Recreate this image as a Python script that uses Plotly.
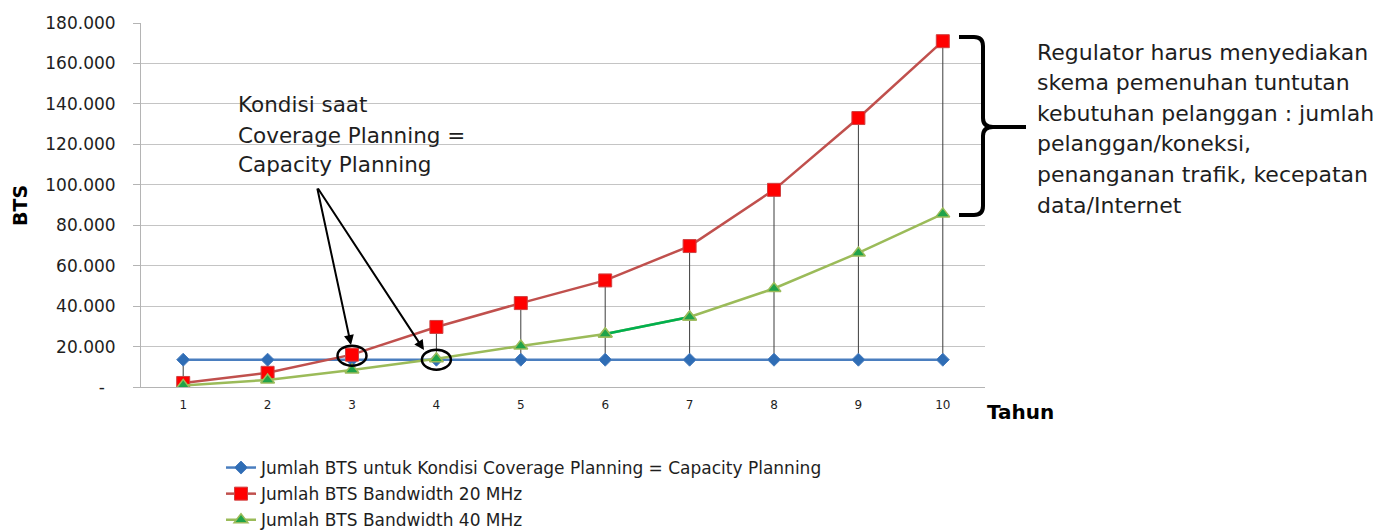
import plotly.graph_objects as go

# Data: number of BTS per year for each planning scenario
tahun = [1, 2, 3, 4, 5, 6, 7, 8, 9, 10]
bts_coverage = [13500] * 10
bts_bw20 = [2000, 7000, 16000, 29700, 41500, 52700, 69700, 97500, 133000, 171000]
bts_bw40 = [800, 3500, 8400, 14000, 20300, 26200, 34600, 48700, 66300, 85600]

y_ticks = [0, 20000, 40000, 60000, 80000, 100000, 120000, 140000, 160000, 180000]
y_ticktext = ["-\u00a0\u00a0", "20.000", "40.000", "60.000", "80.000", "100.000",
              "120.000", "140.000", "160.000", "180.000"]

legend_names = [
    "Jumlah BTS untuk Kondisi Coverage Planning = Capacity Planning",
    "Jumlah BTS Bandwidth 20 MHz",
    "Jumlah BTS Bandwidth 40 MHz",
]

W, H = 1394, 530
ML, MR, MT, MB = 141, 409, 23, 143
PW, PH = W - ML - MR, H - MT - MB
FONT = "DejaVu Sans"
TXT = "#1e1e1e"


def px(xp):
    return (xp - ML) / PW


def py(yp):
    return (H - MB - yp) / PH


fig = go.Figure()

# high-low lines between the largest and smallest value of each year
hl_x, hl_y = [], []
for i, t in enumerate(tahun):
    vals = [bts_coverage[i], bts_bw20[i], bts_bw40[i]]
    hl_x += [t, t, None]
    hl_y += [max(vals), min(vals), None]
fig.add_trace(go.Scatter(x=hl_x, y=hl_y, mode="lines", showlegend=False,
                         hoverinfo="skip", line=dict(color="#3c3c3c", width=1)))

fig.add_trace(go.Scatter(
    x=tahun, y=bts_coverage, mode="lines+markers", name=legend_names[0],
    legendgroup="a",
    line=dict(color="#4A7EBF", width=2.5),
    marker=dict(symbol="diamond", size=10, color="#2F6DB5",
                line=dict(color="#4A7EBF", width=1))))

fig.add_trace(go.Scatter(
    x=tahun, y=bts_bw20, mode="lines+markers", name=legend_names[1],
    legendgroup="b",
    line=dict(color="#C0504D", width=2.5),
    marker=dict(symbol="square", size=13, color="#FF0000",
                line=dict(color="#D04040", width=1))))

fig.add_trace(go.Scatter(
    x=tahun, y=bts_bw40, mode="lines+markers", name=legend_names[2],
    legendgroup="c",
    line=dict(color="#9BBB59", width=2.5),
    marker=dict(symbol="triangle-up", size=12, color="#1FA34A",
                line=dict(color="#9BBB59", width=1.5))))

# the year 6-7 segment of the 40 MHz line is highlighted in a brighter green
fig.add_trace(go.Scatter(
    x=tahun[5:7], y=bts_bw40[5:7], mode="lines", showlegend=False,
    hoverinfo="skip", line=dict(color="#00B050", width=2.5)))
fig.add_trace(go.Scatter(
    x=tahun[5:7], y=bts_bw40[5:7], mode="markers", showlegend=False,
    hoverinfo="skip",
    marker=dict(symbol="triangle-up", size=12, color="#1FA34A",
                line=dict(color="#9BBB59", width=1.5))))

shapes = []
# white box behind the callout text
shapes.append(dict(type="rect", xref="paper", yref="paper",
                   x0=px(225), x1=px(479), y0=py(188), y1=py(85),
                   fillcolor="white", line=dict(width=0), layer="between"))

# ellipses marking the crossover points
for t, v in [(3, bts_bw20[2]), (4, bts_bw40[3])]:
    shapes.append(dict(type="circle", xref="x", yref="y",
                       xsizemode="pixel", ysizemode="pixel",
                       xanchor=t, yanchor=v,
                       x0=-14.5, x1=14.5, y0=-11, y1=9,
                       line=dict(color="black", width=2.5)))


# curly bracket next to the right end of the lines
def pth(points):
    out = []
    for cmd, pts in points:
        coords = " ".join(f"{px(a):.5f},{py(b):.5f}" for a, b in pts)
        out.append(f"{cmd} {coords}")
    return " ".join(out)


brace = pth([
    ("M", [(959, 37)]), ("L", [(974, 37)]), ("Q", [(983, 37), (983, 46)]),
    ("L", [(983, 118)]), ("Q", [(983, 127), (993, 127)]),
    ("Q", [(983, 127), (983, 136)]), ("L", [(983, 206)]),
    ("Q", [(983, 215), (974, 215)]), ("L", [(959, 215)]),
    ("M", [(993, 127)]), ("L", [(1026, 127)]),
])
shapes.append(dict(type="path", xref="paper", yref="paper", path=brace,
                   line=dict(color="black", width=4)))

annotations = []
# callout text
for text, yc in [("Kondisi saat", 104), ("Coverage Planning =", 135),
                 ("Capacity Planning", 165)]:
    annotations.append(dict(x=px(236), y=py(yc), xref="paper", yref="paper",
                            text=text, showarrow=False, xanchor="left",
                            yanchor="middle",
                            font=dict(family=FONT, size=21.5, color=TXT)))

# arrows from the callout to the circled points
tail = (317, 187)
for tip in [(351, 345), (424, 350)]:
    annotations.append(dict(x=px(tip[0]), y=py(tip[1]), xref="paper",
                            yref="paper", ax=tail[0] - tip[0],
                            ay=tail[1] - tip[1], text="", showarrow=True,
                            arrowhead=2, arrowsize=1, arrowwidth=2,
                            arrowcolor="black"))

# explanation on the right
right_lines = ["Regulator harus menyediakan", "skema pemenuhan tuntutan",
               "kebutuhan pelanggan : jumlah", "pelanggan/koneksi,",
               "penanganan trafik, kecepatan", "data/Internet"]
for k, line in enumerate(right_lines):
    annotations.append(dict(x=px(1035), y=py(52 + 30.6 * k), xref="paper",
                            yref="paper", text=line, showarrow=False,
                            xanchor="left", yanchor="middle",
                            font=dict(family=FONT, size=22, color=TXT)))

# axis titles
annotations.append(dict(x=px(20), y=py(205), xref="paper", yref="paper",
                        text="<b>BTS</b>", textangle=-90, showarrow=False,
                        xanchor="center", yanchor="middle",
                        font=dict(family=FONT, size=19, color="black")))
annotations.append(dict(x=px(1020), y=py(412), xref="paper", yref="paper",
                        text="<b>Tahun</b>", showarrow=False,
                        xanchor="center", yanchor="middle",
                        font=dict(family=FONT, size=20, color="black")))

fig.update_layout(
    width=W, height=H,
    margin=dict(l=ML, r=MR, t=MT, b=MB, autoexpand=False),
    paper_bgcolor="white", plot_bgcolor="white",
    font=dict(family=FONT, color=TXT),
    shapes=shapes, annotations=annotations,
    showlegend=True,
    legend=dict(x=px(221), y=py(450), xanchor="left", yanchor="top",
                font=dict(family=FONT, size=17, color=TXT),
                bgcolor="rgba(0,0,0,0)", itemwidth=30, tracegroupgap=1),
    xaxis=dict(range=[0.5, 10.5], tickvals=tahun,
               ticktext=[str(t) for t in tahun],
               showgrid=False, zeroline=False, showline=True,
               linecolor="#b4b4b4", linewidth=1, ticks="",
               tickfont=dict(family=FONT, size=12, color=TXT),
               ticklabelstandoff=7),
    yaxis=dict(range=[0, 180000], tickvals=y_ticks, ticktext=y_ticktext,
               showgrid=True, gridcolor="#c4c4c4", gridwidth=1,
               zeroline=False, showline=True, linecolor="#b4b4b4",
               linewidth=1, ticks="outside", ticklen=7, tickcolor="#b4b4b4",
               tickfont=dict(family=FONT, size=17, color=TXT),
               ticklabelstandoff=14),
)

fig.write_html("out.html")
